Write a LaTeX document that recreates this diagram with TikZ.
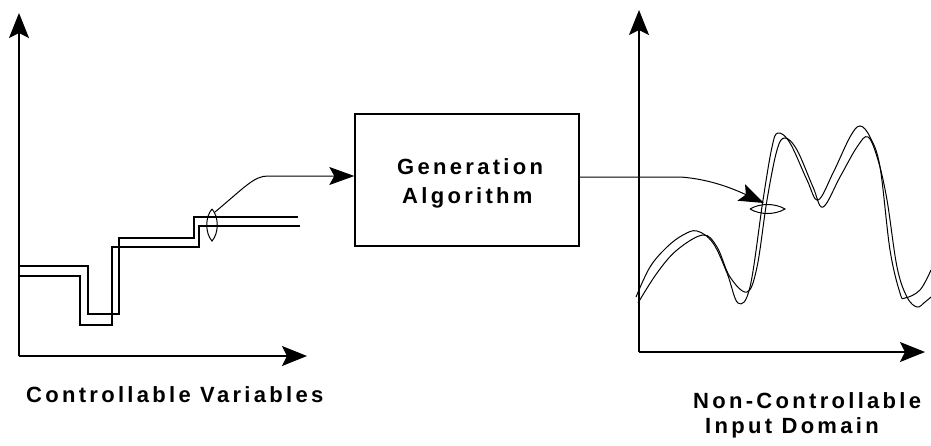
\documentclass[tikz,border=0pt]{standalone}
\usepackage{fontspec}
\newfontfamily\lblfont{Liberation Sans Bold}[LetterSpace=15]
\usetikzlibrary{arrows.meta}
\begin{document}
\begin{tikzpicture}[x=1pt,y=-1pt,
  axis/.style={line width=1.4pt,-{Stealth[length=25pt,width=20pt,inset=5pt]}},
  stepline/.style={line width=1.4pt},
  wave/.style={line width=1pt},
  conn/.style={line width=1pt,-{Stealth[length=25pt,width=18pt,inset=5pt]}},
  lbl/.style={inner sep=0pt,anchor=base west,font=\lblfont\fontsize{22pt}{26pt}\selectfont},
  boxst/.style={draw,line width=1.4pt,minimum width=224pt,minimum height=132pt,inner sep=0pt}]
\useasboundingbox (0,0) rectangle (931,445);
% left plot
\coordinate (lo) at (19,356);
\coordinate (ly) at (19,13);
\coordinate (lx) at (307,356);
\draw[axis] (lo) -- (ly);
\draw[axis] (lo) -- (lx);
\draw[stepline] (19,266) -- (88,266) -- (88,314) -- (119,314) -- (119,238) -- (194,238) -- (194,217) -- (298,217);
\draw[stepline] (19,276) -- (80,276) -- (80,325) -- (112,325) -- (112,247) -- (199,247) -- (199,226) -- (300,226);
\coordinate (lenstop) at (212,209);
\draw[line width=1pt] (lenstop) .. controls (205,217) and (205,233) .. (212,241) .. controls (219,233) and (219,217) .. (lenstop);
% box
\node[boxst] (box) at (467,180) {};
\node[lbl] (gen) at (397,174) {Generation};
\node[lbl] (alg) at (402,203) {Algorithm};
% connector left -> box
\coordinate (c1) at (268,176);
\draw[conn] (lenstop) ++(3,3) coordinate (c0) (c0) .. controls (245,187) and (254,176) .. (c1) -- (box.west |- c1);
% right plot
\coordinate (ro) at (639,352);
\coordinate (ry) at (639,10);
\coordinate (rx) at (925,352);
\draw[axis] (ro) -- (ry);
\draw[axis] (ro) -- (rx);
\draw[wave] plot[smooth,tension=0.6] coordinates {(636,297) (650,267) (667,247) (683,235) (697,231) (713,243) (727,273) (738,303) (750,287) (763,200) (772,147) (778,133) (790,143) (807,180) (818,200) (833,173) (850,137) (860,126) (870,137) (880,167) (890,250) (900,293) (905,298) (920,290) (931,270)};
\draw[wave] plot[smooth,tension=0.6] coordinates {(638,303) (657,273) (677,250) (703,235) (717,247) (730,277) (747,292) (757,267) (767,200) (777,150) (785,138) (797,150) (813,187) (823,207) (840,177) (857,147) (868,137) (878,160) (887,200) (897,267) (907,297) (917,307) (925,302) (931,297)};
\coordinate (rlens) at (767.5,209);
\draw[line width=1pt] (750,209) .. controls (760,203) and (775,203) .. (785,209) .. controls (775,215) and (760,215) .. (750,209);
% connector box -> right
\coordinate (c2) at (680,177);
\coordinate (tip) at (764,203);
\draw[conn] (box.east |- c2) -- (c2) .. controls (712,179) and (738,191) .. (tip);
% labels
\node[lbl] (cv) at (26,402) {Controllable Variables};
\node[lbl] (nc) at (693,408) {Non-Controllable};
\node[lbl] (id) at (705,433) {Input Domain};
\end{tikzpicture}
\end{document}
